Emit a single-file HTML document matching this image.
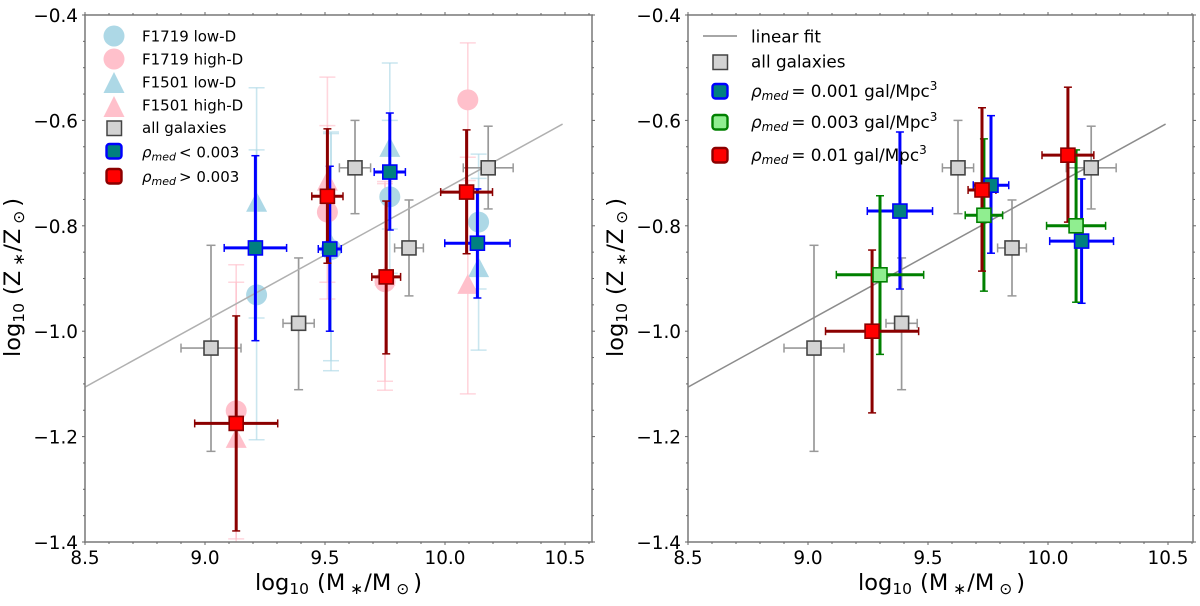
<!DOCTYPE html>
<html>
<head>
<meta charset="utf-8">
<style>
html,body{margin:0;padding:0;background:#fff;width:1200px;height:606px;overflow:hidden}
svg{display:block;filter:blur(0.35px)}
text{font-family:"DejaVu Sans","Liberation Sans",sans-serif;fill:#000}
.it{font-style:italic}
</style>
</head>
<body>
<svg id="chart" xmlns="http://www.w3.org/2000/svg" width="1200" height="606" viewBox="0 0 1200 606">
<defs>
<clipPath id="clip-left"><rect x="85" y="15" width="507" height="527"/></clipPath>
<clipPath id="clip-right"><rect x="688" y="15" width="505" height="527"/></clipPath>
</defs>
<rect width="1200" height="606" fill="#fff"/>
<g id="left-panel"></g>
<g id="right-panel"></g>

<g>
<text x="255" y="590" font-size="22.5">log<tspan font-size="15.5" dy="4">10</tspan><tspan dy="-4" dx="8">(M</tspan><tspan font-size="15.5" dy="4" dx="5">∗</tspan><tspan dy="-4" dx="1">/M</tspan><tspan font-size="15.5" dy="4" dx="5">⊙</tspan><tspan dy="-4" dx="4">)</tspan></text>
</g>
<g>
<text x="858" y="590" font-size="22.5">log<tspan font-size="15.5" dy="4">10</tspan><tspan dy="-4" dx="8">(M</tspan><tspan font-size="15.5" dy="4" dx="5">∗</tspan><tspan dy="-4" dx="1">/M</tspan><tspan font-size="15.5" dy="4" dx="5">⊙</tspan><tspan dy="-4" dx="4">)</tspan></text>
</g>
<g>
<text transform="translate(20,357) rotate(-90)" font-size="22.5">log<tspan font-size="15.5" dy="4">10</tspan><tspan dy="-4" dx="8">(Z</tspan><tspan font-size="15.5" dy="4" dx="5">∗</tspan><tspan dy="-4" dx="1">/Z</tspan><tspan font-size="15.5" dy="4" dx="5">⊙</tspan><tspan dy="-4" dx="4">)</tspan></text>
</g>
<g>
<text transform="translate(623,357) rotate(-90)" font-size="22.5">log<tspan font-size="15.5" dy="4">10</tspan><tspan dy="-4" dx="8">(Z</tspan><tspan font-size="15.5" dy="4" dx="5">∗</tspan><tspan dy="-4" dx="1">/Z</tspan><tspan font-size="15.5" dy="4" dx="5">⊙</tspan><tspan dy="-4" dx="4">)</tspan></text>
</g>

<g>
<g><circle cx="114" cy="36" r="10.5" fill="#add8e6"/><text x="142" y="41.5" font-size="15">F1719 low-D</text></g>
<g><circle cx="114" cy="59" r="10.5" fill="#ffc0cb"/><text x="142" y="64.5" font-size="15">F1719 high-D</text></g>
<g><polygon points="114,72 124.5,93 103.5,93" fill="#add8e6"/><text x="142" y="87.5" font-size="15">F1501 low-D</text></g>
<g><polygon points="114,96 124.5,117 103.5,117" fill="#ffc0cb"/><text x="142" y="110.5" font-size="15">F1501 high-D</text></g>
<g><rect x="107" y="121" width="14.5" height="14.5" fill="#d3d3d3" stroke="#444" stroke-width="1.5"/><text x="142" y="133" font-size="15">all galaxies</text></g>
<g><rect x="106.500" y="144" width="15" height="14.500" rx="3" fill="#008080" stroke="#0000ff" stroke-width="2.4"/><text x="142" y="157.5" font-size="15"><tspan class="it" font-size="15">ρ</tspan><tspan class="it" font-size="11" dy="3">med</tspan><tspan dy="-3" dx="3">&lt; 0.003</tspan></text></g>
<g><rect x="106.500" y="169" width="15" height="14.500" rx="3" fill="#ff0000" stroke="#8b0000" stroke-width="2.4"/><text x="142" y="182" font-size="15"><tspan class="it" font-size="15">ρ</tspan><tspan class="it" font-size="11" dy="3">med</tspan><tspan dy="-3" dx="3">&gt; 0.003</tspan></text></g>
</g>

<g>
<g><line x1="703" x2="737" y1="36" y2="36" stroke="#888" stroke-width="1.5"/><text x="751" y="42.500" font-size="16.800">linear fit</text></g>
<g><rect x="713" y="55" width="14.500" height="14.500" fill="#d3d3d3" stroke="#444" stroke-width="1.5"/><text x="751" y="67.500" font-size="16.800">all galaxies</text></g>
<g><rect x="712.500" y="84" width="15" height="14.500" rx="3" fill="#008080" stroke="#0000ff" stroke-width="2.4"/><text x="751" y="97" font-size="16.800"><tspan class="it">ρ</tspan><tspan class="it" font-size="12" dy="3">med</tspan><tspan dy="-3" dx="3">= 0.001 gal/Mpc</tspan><tspan font-size="12" dy="-7">3</tspan></text></g>
<g><rect x="712.500" y="115" width="15" height="14.500" rx="3" fill="#90ee90" stroke="#008000" stroke-width="2.4"/><text x="751" y="128" font-size="16.800"><tspan class="it">ρ</tspan><tspan class="it" font-size="12" dy="3">med</tspan><tspan dy="-3" dx="3">= 0.003 gal/Mpc</tspan><tspan font-size="12" dy="-7">3</tspan></text></g>
<g><rect x="712.500" y="148" width="15" height="14.500" rx="3" fill="#ff0000" stroke="#8b0000" stroke-width="2.4"/><text x="751" y="161" font-size="16.800"><tspan class="it">ρ</tspan><tspan class="it" font-size="12" dy="3">med</tspan><tspan dy="-3" dx="3">= 0.01 gal/Mpc</tspan><tspan font-size="12" dy="-7">3</tspan></text></g>
</g>
</svg>

<script>
// ---- tick labels ----
const xTickValues = [8.5, 9.0, 9.5, 10.0, 10.5];
const xTickLabels = ['8.5', '9.0', '9.5', '10.0', '10.5'];
const yTickValues = [-0.4, -0.6, -0.8, -1.0, -1.2, -1.4];
const yTickLabels = ['−0.4', '−0.6', '−0.8', '−1.0', '−1.2', '−1.4'];

// ---- linear fit ----
const fitX = [8.5, 10.49];
const fitY = [-1.106, -0.607];

// ---- all galaxies ----
const allX = [9.025, 9.39, 9.625, 9.85, 10.18];
const allY = [-1.032, -0.985, -0.69, -0.842, -0.69];
const allXErr = [0.125, 0.065, 0.065, 0.06, 0.104];
const allYTop = [-0.837, -0.861, -0.6, -0.751, -0.611];
const allYBot = [-1.228, -1.111, -0.777, -0.933, -0.768];

// ---- left panel: F1719 low-D ----
const f1719LowX = [9.215, 9.525, 9.77, 10.14];
const f1719LowY = [-0.931, -0.845, -0.745, -0.793];
const f1719LowTop = [-0.656, -0.622, -0.6, -0.664];
const f1719LowBot = [-1.206, -1.075, -0.89, -0.92];
// ---- left panel: F1719 high-D ----
const f1719HighX = [9.13, 9.51, 9.75, 10.095];
const f1719HighY = [-1.151, -0.774, -0.906, -0.561];
const f1719HighTop = [-0.907, -0.61, -0.716, -0.453];
const f1719HighBot = [-1.394, -0.939, -1.112, -0.67];
// ---- left panel: F1501 low-D ----
const f1501LowX = [9.215, 9.525, 9.77, 10.14];
const f1501LowY = [-0.76, -0.84, -0.656, -0.884];
const f1501LowTop = [-0.538, -0.625, -0.491, -0.71];
const f1501LowBot = [-0.975, -1.056, -0.806, -1.036];
// ---- left panel: F1501 high-D ----
const f1501HighX = [9.13, 9.51, 9.75, 10.095];
const f1501HighY = [-1.208, -0.72, -0.9, -0.916];
const f1501HighTop = [-0.874, -0.518, -0.72, -0.714];
const f1501HighBot = [-1.53, -0.907, -1.095, -1.119];

// ---- left panel: low density ----
const lowDensX = [9.21, 9.52, 9.77, 10.135];
const lowDensY = [-0.842, -0.844, -0.698, -0.833];
const lowDensXErr = [0.13, 0.048, 0.065, 0.136];
const lowDensTop = [-0.667, -0.687, -0.586, -0.73];
const lowDensBot = [-1.018, -1.0, -0.808, -0.937];
// ---- left panel: high density ----
const highDensX = [9.13, 9.51, 9.755, 10.09];
const highDensY = [-1.175, -0.744, -0.897, -0.736];
const highDensXErr = [0.173, 0.065, 0.06, 0.108];
const highDensTop = [-0.971, -0.616, -0.753, -0.618];
const highDensBot = [-1.379, -0.871, -1.043, -0.853];

// ---- right panel: rho = 0.001 ----
const rho001X = [9.383, 9.7625, 10.14];
const rho001Y = [-0.772, -0.723, -0.829];
const rho001XErr = [0.136, 0.074, 0.133];
const rho001Top = [-0.622, -0.591, -0.711];
const rho001Bot = [-0.92, -0.852, -0.947];
// ---- right panel: rho = 0.003 ----
const rho003X = [9.3, 9.733, 10.117];
const rho003Y = [-0.893, -0.78, -0.8];
const rho003XErr = [0.182, 0.078, 0.123];
const rho003Top = [-0.743, -0.635, -0.656];
const rho003Bot = [-1.044, -0.924, -0.945];
// ---- right panel: rho = 0.01 ----
const rho01X = [9.267, 9.725, 10.083];
const rho01Y = [-1.0, -0.732, -0.666];
const rho01XErr = [0.194, 0.058, 0.108];
const rho01Top = [-0.846, -0.576, -0.537];
const rho01Bot = [-1.155, -0.886, -0.793];

const NS = 'http://www.w3.org/2000/svg';
const xPerUnit = 240;
const yPerUnit = 527;
const yPx = v => 15 + (-0.4 - v) * yPerUnit;
const xScaleLeft = v => 85 + (v - 8.5) * xPerUnit;
const xScaleRight = v => 688 + (v - 8.5) * xPerUnit;

function make(parent, tag, attrs) {
  const el = document.createElementNS(NS, tag);
  for (const k in attrs) el.setAttribute(k, attrs[k]);
  parent.appendChild(el);
  return el;
}

function seg(parent, x1, y1, x2, y2, color, width, opacity, name) {
  const el = make(parent, 'line', {x1, y1, x2, y2, stroke: color, 'stroke-width': width, 'stroke-opacity': opacity});
  
  
  return el;
}

function drawAxes(parent, xs, left, right) {
  const frame = make(parent, 'rect', {x: left, y: 15, width: right - left, height: 527, fill: 'none', stroke: '#808080', 'stroke-width': 1.6});
  
  
  for (let i = 0; i <= 21; i++) {
    const v = 8.5 + i * 0.1;
    if (xs(v) > right) break;
    const major = i % 5 === 0;
    seg(parent, xs(v), 542, xs(v), 542 + (major ? 3 : 2), '#666', 1, 1, 'x-tick-mark');
    seg(parent, xs(v), 15, xs(v), 15 - (major ? 3 : 2), '#666', 1, 1, 'x-tick-mark-top');
  }
  for (let i = 0; i <= 20; i++) {
    const v = -0.4 - i * 0.05;
    const major = i % 4 === 0;
    seg(parent, left, yPx(v), left - (major ? 3 : 2), yPx(v), '#666', 1, 1, 'y-tick-mark');
    seg(parent, right, yPx(v), right + (major ? 3 : 2), yPx(v), '#666', 1, 1, 'y-tick-mark-right');
  }
  xTickValues.forEach((v, i) => {
    const t = make(parent, 'text', {x: xs(v), y: 564, 'font-size': 18.4, 'text-anchor': 'middle'});
    
    
    t.textContent = xTickLabels[i];
  });
  yTickValues.forEach((v, i) => {
    const t = make(parent, 'text', {x: left - 7, y: yPx(v) + 7, 'font-size': 18.4, 'text-anchor': 'end'});
    
    
    t.textContent = yTickLabels[i];
  });
}

function drawFit(parent, xs, color) {
  const el = make(parent, 'line', {x1: xs(fitX[0]), y1: yPx(fitY[0]), x2: xs(fitX[1]), y2: yPx(fitY[1]), stroke: color, 'stroke-width': 1.5});
  
  
}

function drawBars(parent, xs, X, Y, XErr, Top, Bot, color, width, capHalf, opacity, name) {
  X.forEach((v, i) => {
    const px = xs(v), py = yPx(Y[i]);
    seg(parent, px, yPx(Top[i]), px, yPx(Bot[i]), color, width, opacity, name + '-y-error');
    seg(parent, px - capHalf, yPx(Top[i]), px + capHalf, yPx(Top[i]), color, 1.5, opacity, name + '-cap');
    seg(parent, px - capHalf, yPx(Bot[i]), px + capHalf, yPx(Bot[i]), color, 1.5, opacity, name + '-cap');
    if (XErr) {
      const a = xs(v - XErr[i]), b = xs(v + XErr[i]);
      seg(parent, a, py, b, py, color, width, opacity, name + '-x-error');
      seg(parent, a, py - capHalf, a, py + capHalf, color, 1.5, opacity, name + '-cap');
      seg(parent, b, py - capHalf, b, py + capHalf, color, 1.5, opacity, name + '-cap');
    }
  });
}

function drawSquares(parent, xs, X, Y, fill, stroke, name) {
  X.forEach((v, i) => {
    const r = make(parent, 'rect', {x: xs(v) - 7, y: yPx(Y[i]) - 7, width: 14, height: 14, fill: fill, stroke: stroke, 'stroke-width': 1.6});
    
    
  });
}

function drawCircles(parent, xs, X, Y, fill, name) {
  X.forEach((v, i) => {
    const c = make(parent, 'circle', {cx: xs(v), cy: yPx(Y[i]), r: 10.5, fill: fill});
    
    
  });
}

function drawTriangles(parent, xs, X, Y, fill, name) {
  X.forEach((v, i) => {
    const px = xs(v), py = yPx(Y[i]);
    const p = make(parent, 'polygon', {points: (px) + ',' + (py - 13) + ' ' + (px + 10.5) + ',' + (py + 7) + ' ' + (px - 10.5) + ',' + (py + 7), fill: fill});
    
    
  });
}

// LEFT PANEL
const leftRoot = document.getElementById('left-panel');
const leftPlot = make(leftRoot, 'g', {'clip-path': 'url(#clip-left)'});


drawBars(leftPlot, xScaleLeft, f1719LowX, f1719LowY, null, f1719LowTop, f1719LowBot, '#add8e6', 1.6, 8, 0.65, 'f1719-low-d');
drawBars(leftPlot, xScaleLeft, f1501LowX, f1501LowY, null, f1501LowTop, f1501LowBot, '#add8e6', 1.6, 8, 0.65, 'f1501-low-d');
drawBars(leftPlot, xScaleLeft, f1719HighX, f1719HighY, null, f1719HighTop, f1719HighBot, '#ffc0cb', 1.6, 8, 0.65, 'f1719-high-d');
drawBars(leftPlot, xScaleLeft, f1501HighX, f1501HighY, null, f1501HighTop, f1501HighBot, '#ffc0cb', 1.6, 8, 0.65, 'f1501-high-d');
drawCircles(leftPlot, xScaleLeft, f1719LowX, f1719LowY, '#add8e6', 'f1719-low-d-point');
drawTriangles(leftPlot, xScaleLeft, f1501LowX, f1501LowY, '#add8e6', 'f1501-low-d-point');
drawCircles(leftPlot, xScaleLeft, f1719HighX, f1719HighY, '#ffc0cb', 'f1719-high-d-point');
drawTriangles(leftPlot, xScaleLeft, f1501HighX, f1501HighY, '#ffc0cb', 'f1501-high-d-point');
drawBars(leftPlot, xScaleLeft, allX, allY, allXErr, allYTop, allYBot, '#999', 1.7, 4.5, 1, 'all-galaxies');
drawFit(leftPlot, xScaleLeft, '#b0b0b0');
drawSquares(leftPlot, xScaleLeft, allX, allY, '#d3d3d3', '#444', 'all-galaxies-point');
drawBars(leftPlot, xScaleLeft, lowDensX, lowDensY, lowDensXErr, lowDensTop, lowDensBot, '#0000ff', 3, 4, 1, 'low-density');
drawBars(leftPlot, xScaleLeft, highDensX, highDensY, highDensXErr, highDensTop, highDensBot, '#8b0000', 3, 4, 1, 'high-density');
drawSquares(leftPlot, xScaleLeft, lowDensX, lowDensY, '#008080', '#0000ff', 'low-density-point');
drawSquares(leftPlot, xScaleLeft, highDensX, highDensY, '#ff0000', '#8b0000', 'high-density-point');
drawAxes(leftRoot, xScaleLeft, 85, 592);

// RIGHT PANEL
const rightRoot = document.getElementById('right-panel');
const rightPlot = make(rightRoot, 'g', {'clip-path': 'url(#clip-right)'});


drawBars(rightPlot, xScaleRight, allX, allY, allXErr, allYTop, allYBot, '#999', 1.7, 4.5, 1, 'all-galaxies');
drawFit(rightPlot, xScaleRight, '#8c8c8c');
drawSquares(rightPlot, xScaleRight, allX, allY, '#d3d3d3', '#444', 'all-galaxies-point');
drawBars(rightPlot, xScaleRight, rho001X, rho001Y, rho001XErr, rho001Top, rho001Bot, '#0000ff', 3, 4, 1, 'rho-0-001');
drawBars(rightPlot, xScaleRight, rho003X, rho003Y, rho003XErr, rho003Top, rho003Bot, '#008000', 3, 4, 1, 'rho-0-003');
drawBars(rightPlot, xScaleRight, rho01X, rho01Y, rho01XErr, rho01Top, rho01Bot, '#8b0000', 3, 4, 1, 'rho-0-01');
drawSquares(rightPlot, xScaleRight, rho001X, rho001Y, '#008080', '#0000ff', 'rho-0-001-point');
drawSquares(rightPlot, xScaleRight, rho003X, rho003Y, '#90ee90', '#008000', 'rho-0-003-point');
drawSquares(rightPlot, xScaleRight, rho01X, rho01Y, '#ff0000', '#8b0000', 'rho-0-01-point');
drawAxes(rightRoot, xScaleRight, 688, 1193);
</script>
</body>
</html>
